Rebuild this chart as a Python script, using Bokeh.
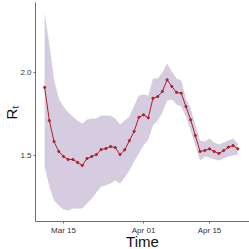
import pandas as pd
from bokeh.plotting import figure
from bokeh.models import Range1d, FixedTicker, DatetimeTickFormatter, ColumnDataSource, PrintfTickFormatter
from bokeh.embed import file_html
from bokeh.resources import INLINE

dates = pd.date_range("2020-03-11", "2020-04-21", freq="D")
rt = [1.91, 1.71, 1.584, 1.524, 1.494, 1.476, 1.476, 1.458, 1.44, 1.482, 1.494,
      1.506, 1.536, 1.542, 1.554, 1.548, 1.506, 1.534, 1.59, 1.645, 1.73,
      1.745, 1.727, 1.845, 1.855, 1.886, 1.956, 1.916, 1.88, 1.875, 1.795,
      1.715, 1.62, 1.524, 1.53, 1.54, 1.524, 1.512, 1.53, 1.55, 1.56, 1.54]
upper = [2.36, 2.17, 1.955, 1.843, 1.795, 1.759, 1.735, 1.71, 1.693, 1.717, 1.723,
         1.723, 1.741, 1.741, 1.741, 1.723, 1.687, 1.711, 1.735, 1.80, 1.861,
         1.867, 1.861, 1.964, 1.964, 2.0, 2.054, 2.006, 1.964, 1.952, 1.843,
         1.783, 1.68, 1.59, 1.584, 1.602, 1.578, 1.566, 1.578, 1.59, 1.602, 1.572]
lower = [1.43, 1.313, 1.229, 1.199, 1.175, 1.169, 1.181, 1.181, 1.181, 1.211, 1.241,
         1.277, 1.313, 1.32, 1.331, 1.349, 1.331, 1.367, 1.41, 1.464, 1.512,
         1.56, 1.596, 1.68, 1.711, 1.759, 1.831, 1.837, 1.807, 1.795, 1.735,
         1.651, 1.56, 1.47, 1.494, 1.488, 1.476, 1.47, 1.482, 1.494, 1.5, 1.506]
tick_dates = ["2020-03-15", "2020-04-01", "2020-04-15"]
y_ticks = [1.5, 2.0]

src = ColumnDataSource(dict(date=dates, rt=rt, upper=upper, lower=lower))

p = figure(frame_width=214, frame_height=219, x_axis_type="datetime", output_backend="svg",
           toolbar_location=None,
           x_range=Range1d(pd.Timestamp("2020-03-09 01:26"), pd.Timestamp("2020-04-23 11:45")),
           y_range=Range1d(1.1024, 2.4217),
           min_border_left=35, min_border_right=0, min_border_top=2, min_border_bottom=28)
p.outline_line_color = None
p.background_fill_color = "white"
p.border_fill_color = "white"
p.grid.visible = False

p.varea(x="date", y1="lower", y2="upper", source=src, fill_color="#d5cddf", fill_alpha=1.0)
p.line(x="date", y="rt", source=src, line_color="#ad1f2d", line_width=1)
p.scatter(x="date", y="rt", source=src, size=2.2, fill_color="#ad1f2d", line_color="#ad1f2d")

tick_ms = [pd.Timestamp(d).value // 10**6 for d in tick_dates]
p.xaxis.ticker = FixedTicker(ticks=tick_ms)
p.xaxis.formatter = DatetimeTickFormatter(days="%b %d", months="%b %d")
p.yaxis.ticker = FixedTicker(ticks=y_ticks)
p.yaxis.formatter = PrintfTickFormatter(format="%.1f")

for ax in (p.xaxis[0], p.yaxis[0]):
    ax.axis_line_color = "#6e6e6e"
    ax.axis_line_width = 1
    ax.major_tick_line_color = "#6e6e6e"
    ax.major_tick_out = 2
    ax.major_tick_in = 0
    ax.minor_tick_line_color = None
    ax.major_label_text_font = "Liberation Sans"
    ax.major_label_text_font_size = "8px"
    ax.major_label_text_color = "#333333"
    ax.major_label_standoff = 2
    ax.axis_label_text_font = "Liberation Sans"
    ax.axis_label_text_font_size = "15px"
    ax.axis_label_text_font_style = "normal"
    ax.axis_label_text_color = "#111111"

p.xaxis.axis_label = "Time"
p.yaxis.axis_label = "Rₜ"
p.xaxis.axis_label_standoff = -5
p.yaxis.axis_label_standoff = -3

open("out.html", "w").write(file_html(p, INLINE))
